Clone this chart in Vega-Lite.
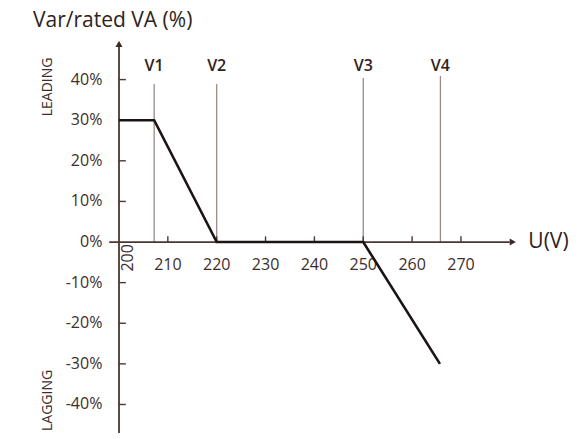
{
  "$schema": "https://vega.github.io/schema/vega-lite/v6.json",
  "width": 467,
  "height": 439,
  "autosize": {"type": "none"},
  "padding": {"left": 119, "top": 0, "right": 0, "bottom": 0},
  "config": {"view": {"stroke": null}, "font": "Open Sans"},
  "datasets": {
    "curve": [
      {"u": 200, "q": 30},
      {"u": 207.2, "q": 30},
      {"u": 220, "q": 0},
      {"u": 250, "q": 0},
      {"u": 265.7, "q": -30}
    ],
    "vlines": [
      {"name": "V1", "u": 207.2, "top": 38.9},
      {"name": "V2", "u": 220, "top": 38.9},
      {"name": "V3", "u": 250, "top": 40.4},
      {"name": "V4", "u": 265.8, "top": 40.9}
    ],
    "axislines": [
      {"x": 200, "x2": 200, "y": -47, "y2": 48},
      {"x": 198, "x2": 280, "y": 0, "y2": 0}
    ],
    "yticks": [
      {"q": 40, "label": "40%"},
      {"q": 30, "label": "30%"},
      {"q": 20, "label": "20%"},
      {"q": 10, "label": "10%"},
      {"q": 0, "label": "0%"},
      {"q": -10, "label": "-10%"},
      {"q": -20, "label": "-20%"},
      {"q": -30, "label": "-30%"},
      {"q": -40, "label": "-40%"}
    ],
    "xticks": [
      {"u": 210, "label": "210"},
      {"u": 220, "label": "220"},
      {"u": 230, "label": "230"},
      {"u": 240, "label": "240"},
      {"u": 250, "label": "250"},
      {"u": 260, "label": "260"},
      {"u": 270, "label": "270"}
    ]
  },
  "layer": [
    {
      "data": {"name": "vlines"},
      "transform": [{"calculate": "0", "as": "base"}],
      "mark": {"type": "rule", "color": "#9c8a86", "strokeWidth": 1.3},
      "encoding": {
        "x": {"field": "u", "type": "quantitative", "scale": {"domain": [200, 295.6], "nice": false, "zero": false}, "axis": null},
        "y": {"field": "base", "type": "quantitative", "scale": {"domain": [-48.5, 59.6], "nice": false, "zero": false}, "axis": null},
        "y2": {"field": "top"}
      }
    },
    {
      "data": {"name": "vlines"},
      "transform": [{"calculate": "43.3", "as": "ly"}],
      "mark": {"type": "text", "color": "#2e2220", "fontSize": 16, "fontWeight": 600, "baseline": "middle", "align": "center"},
      "encoding": {
        "x": {"field": "u", "type": "quantitative", "scale": {"domain": [200, 295.6], "nice": false, "zero": false}, "axis": null},
        "y": {"field": "ly", "type": "quantitative", "scale": {"domain": [-48.5, 59.6], "nice": false, "zero": false}, "axis": null},
        "text": {"field": "name", "type": "nominal"}
      }
    },
    {
      "data": {"name": "axislines"},
      "mark": {"type": "rule", "color": "#4b3632", "strokeWidth": 1.8},
      "encoding": {
        "x": {"field": "x", "type": "quantitative", "scale": {"domain": [200, 295.6], "nice": false, "zero": false}, "axis": null},
        "x2": {"field": "x2"},
        "y": {"field": "y", "type": "quantitative", "scale": {"domain": [-48.5, 59.6], "nice": false, "zero": false}, "axis": null},
        "y2": {"field": "y2"}
      }
    },
    {
      "data": {"name": "yticks"},
      "transform": [{"filter": "datum.q != 0"}, {"calculate": "201.4", "as": "tickend"}, {"calculate": "200", "as": "tickstart"}],
      "mark": {"type": "rule", "color": "#4b3632", "strokeWidth": 1.4},
      "encoding": {
        "x": {"field": "tickstart", "type": "quantitative", "scale": {"domain": [200, 295.6], "nice": false, "zero": false}, "axis": null},
        "x2": {"field": "tickend"},
        "y": {"field": "q", "type": "quantitative", "scale": {"domain": [-48.5, 59.6], "nice": false, "zero": false}, "axis": null}
      }
    },
    {
      "data": {"name": "xticks"},
      "transform": [{"calculate": "0", "as": "tickstart"}, {"calculate": "1.4", "as": "tickend"}],
      "mark": {"type": "rule", "color": "#4b3632", "strokeWidth": 1.4},
      "encoding": {
        "x": {"field": "u", "type": "quantitative", "scale": {"domain": [200, 295.6], "nice": false, "zero": false}, "axis": null},
        "y": {"field": "tickstart", "type": "quantitative", "scale": {"domain": [-48.5, 59.6], "nice": false, "zero": false}, "axis": null},
        "y2": {"field": "tickend"}
      }
    },
    {
      "data": {"name": "yticks"},
      "transform": [{"calculate": "196.6", "as": "lx"}],
      "mark": {"type": "text", "color": "#3d2d2a", "fontSize": 16, "align": "right", "baseline": "middle"},
      "encoding": {
        "x": {"field": "lx", "type": "quantitative", "scale": {"domain": [200, 295.6], "nice": false, "zero": false}, "axis": null},
        "y": {"field": "q", "type": "quantitative", "scale": {"domain": [-48.5, 59.6], "nice": false, "zero": false}, "axis": null},
        "text": {"field": "label", "type": "nominal"}
      }
    },
    {
      "data": {"name": "xticks"},
      "transform": [{"calculate": "-5.7", "as": "ly"}],
      "mark": {"type": "text", "color": "#3d2d2a", "fontSize": 16, "align": "center", "baseline": "middle"},
      "encoding": {
        "x": {"field": "u", "type": "quantitative", "scale": {"domain": [200, 295.6], "nice": false, "zero": false}, "axis": null},
        "y": {"field": "ly", "type": "quantitative", "scale": {"domain": [-48.5, 59.6], "nice": false, "zero": false}, "axis": null},
        "text": {"field": "label", "type": "nominal"}
      }
    },
    {
      "data": {"values": [{"u": 201.8, "q": -3.9, "label": "200"}]},
      "mark": {"type": "text", "color": "#3d2d2a", "fontSize": 16, "align": "center", "baseline": "middle", "angle": 270},
      "encoding": {
        "x": {"field": "u", "type": "quantitative", "scale": {"domain": [200, 295.6], "nice": false, "zero": false}, "axis": null},
        "y": {"field": "q", "type": "quantitative", "scale": {"domain": [-48.5, 59.6], "nice": false, "zero": false}, "axis": null},
        "text": {"field": "label", "type": "nominal"}
      }
    },
    {
      "data": {"name": "curve"},
      "mark": {"type": "line", "color": "#1c1414", "strokeWidth": 2.6},
      "encoding": {
        "x": {"field": "u", "type": "quantitative", "scale": {"domain": [200, 295.6], "nice": false, "zero": false}, "axis": null},
        "y": {"field": "q", "type": "quantitative", "scale": {"domain": [-48.5, 59.6], "nice": false, "zero": false}, "axis": null}
      }
    },
    {
      "data": {"values": [{"u": 200, "q": 48.8}]},
      "mark": {"type": "point", "filled": true, "color": "#3d2a26", "size": 50, "opacity": 1, "shape": "triangle-up"},
      "encoding": {
        "x": {"field": "u", "type": "quantitative", "scale": {"domain": [200, 295.6], "nice": false, "zero": false}, "axis": null},
        "y": {"field": "q", "type": "quantitative", "scale": {"domain": [-48.5, 59.6], "nice": false, "zero": false}, "axis": null}
      }
    },
    {
      "data": {"values": [{"u": 280.6, "q": 0}]},
      "mark": {"type": "point", "filled": true, "color": "#3d2a26", "size": 50, "opacity": 1, "shape": "triangle-right"},
      "encoding": {
        "x": {"field": "u", "type": "quantitative", "scale": {"domain": [200, 295.6], "nice": false, "zero": false}, "axis": null},
        "y": {"field": "q", "type": "quantitative", "scale": {"domain": [-48.5, 59.6], "nice": false, "zero": false}, "axis": null}
      }
    },
    {
      "data": {"values": [{"u": 182.4, "q": 54.4, "label": "Var/rated VA (%)"}, {"u": 283.8, "q": 0, "label": "U(V)"}]},
      "mark": {"type": "text", "color": "#2e2220", "fontSize": 21, "align": "left", "baseline": "middle"},
      "encoding": {
        "x": {"field": "u", "type": "quantitative", "scale": {"domain": [200, 295.6], "nice": false, "zero": false}, "axis": null},
        "y": {"field": "q", "type": "quantitative", "scale": {"domain": [-48.5, 59.6], "nice": false, "zero": false}, "axis": null},
        "text": {"field": "label", "type": "nominal"}
      }
    },
    {
      "data": {"values": [{"u": 185.4, "q": 38.2, "label": "LEADING"}, {"u": 185.4, "q": -39, "label": "LAGGING"}]},
      "mark": {"type": "text", "color": "#3d2d2a", "fontSize": 14, "align": "center", "baseline": "middle", "angle": 270},
      "encoding": {
        "x": {"field": "u", "type": "quantitative", "scale": {"domain": [200, 295.6], "nice": false, "zero": false}, "axis": null},
        "y": {"field": "q", "type": "quantitative", "scale": {"domain": [-48.5, 59.6], "nice": false, "zero": false}, "axis": null},
        "text": {"field": "label", "type": "nominal"}
      }
    }
  ]
}
